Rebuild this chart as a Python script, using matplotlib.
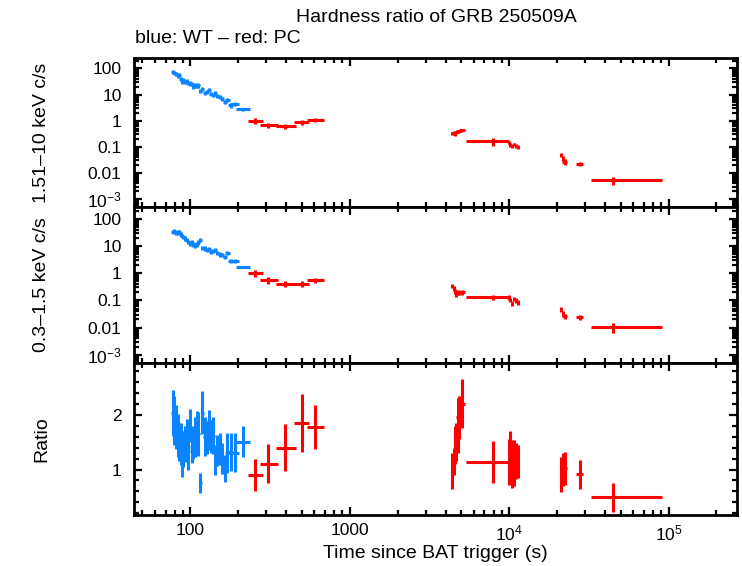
import math
import matplotlib
matplotlib.use("Agg")
import matplotlib.pyplot as plt
from matplotlib.ticker import LogLocator, FixedLocator, MultipleLocator, FuncFormatter, NullFormatter

plt.rcParams['font.family'] = ['Liberation Sans', 'DejaVu Sans']
plt.rcParams['mathtext.fontset'] = 'custom'
plt.rcParams['mathtext.rm'] = 'Liberation Sans'
plt.rcParams['mathtext.it'] = 'Liberation Sans'

# ---------------- data ----------------
# WT mode (blue)
wt_t = [77.5, 79.4, 81.3, 83.3, 85.3, 87.0, 88.7, 90.4, 92.6, 94.9, 97.2, 99.6, 102.0,
        104.5, 107.0, 109.6, 112.3, 115.1, 119.0, 123.1, 126.7, 131.0, 134.9, 139.5,
        143.6, 147.8, 153.6, 158.9, 164.3, 170.8, 179.2, 189.9, 215.3]
wt_terr = [1.5, 1.5, 1.6, 1.6, 1.7, 1.7, 1.8, 1.8, 1.9, 1.9, 2.0, 2.0, 2.1, 2.2, 2.2, 2.3,
           2.4, 2.4, 2.6, 3.0, 3.0, 3.2, 3.3, 3.5, 3.6, 3.8, 4.0, 4.3, 5.0, 5.5, 7.0, 13.0, 22.0]
wt_hard = [73.4, 69, 61.5, 54.7, 58, 40.8, 32.2, 36.3, 30.4, 32.2, 28.6, 27, 25.5, 20.1,
           22.6, 21.4, 22.6, 14.2, 16.9, 11.9, 12.6, 15, 10.5, 9.9, 11.2, 8.8, 7.9, 7.0,
           5.2, 6.2, 3.9, 4.4, 2.73]
wt_hard_err = [13, 12, 11, 10, 10, 7.3, 5.8, 6.5, 5.5, 5.8, 5.1, 4.9, 4.6, 3.6, 4.1, 3.9,
               4.1, 2.6, 3.0, 2.1, 2.3, 2.7, 1.9, 1.8, 2.0, 1.6, 1.4, 1.3, 0.94, 1.1, 0.7,
               0.8, 0.3]
wt_soft = [34.2, 36.2, 30.6, 32.4, 34.2, 27.3, 24.4, 21.8, 19.5, 17.4, 14.7, 12.7, 13.9,
           11.7, 10.5, 11.7, 13.9, 17.4, 8.8, 8.4, 7.5, 7.9, 6.3, 6.7, 7.5, 5.6, 5.0, 4.7,
           4.0, 5.6, 2.86, 2.86, 1.72]
wt_soft_err = [6.2, 6.5, 5.5, 5.8, 6.2, 4.9, 4.4, 3.9, 3.5, 3.1, 2.6, 2.3, 2.5, 2.1, 1.9,
               2.1, 2.5, 3.1, 1.6, 1.5, 1.35, 1.4, 1.1, 1.2, 1.35, 1.0, 0.9, 0.85, 0.72, 1.0,
               0.5, 0.5, 0.2]
wt_ratio = [2.04, 1.90, 1.77, 1.62, 1.50, 1.47, 1.26, 1.38, 1.47, 1.59, 1.34, 1.81, 1.42,
            1.50, 1.59, 1.72, 1.65, 0.76, 2.04, 1.60, 1.59, 1.72, 1.60, 1.62, 1.17, 1.35,
            1.37, 1.20, 1.02, 1.30, 1.32, 1.31, 1.51]
wt_ratio_err = [0.42, 0.45, 0.40, 0.40, 0.35, 0.38, 0.40, 0.33, 0.33, 0.33, 0.35, 0.30, 0.30,
                0.30, 0.36, 0.35, 0.40, 0.18, 0.40, 0.35, 0.30, 0.36, 0.30, 0.33, 0.27, 0.28,
                0.29, 0.29, 0.24, 0.36, 0.35, 0.35, 0.29]

# PC mode (red)
pc_t = [256, 309, 395, 502, 609, 4394, 4480, 4567, 4656, 4746, 4862, 5053, 7866,
        9918, 10160, 10460, 10765, 11080, 11404, 21240, 21760, 22290, 27680, 44600]
pc_tlo = [25, 35, 50, 58, 67, 60, 60, 60, 80, 100, 190, 230, 2490,
          80, 80, 90, 90, 100, 120, 300, 300, 800, 1350, 11900]
pc_thi = [29, 45, 64, 56, 78, 60, 60, 60, 80, 100, 190, 230, 2050,
          80, 80, 90, 90, 100, 120, 300, 300, 800, 1350, 46400]
pc_hard = [0.97, 0.66, 0.61, 0.89, 1.06, 0.33, 0.34, 0.32, 0.36, 0.38, 0.41, 0.44, 0.162,
           0.144, 0.12, 0.107, 0.125, 0.107, 0.101, 0.0485, 0.036, 0.027, 0.022, 0.0052]
pc_hard_err = [0.25, 0.14, 0.11, 0.18, 0.20, 0.05, 0.05, 0.05, 0.05, 0.05, 0.05, 0.05, 0.05,
               0.02, 0.02, 0.02, 0.02, 0.02, 0.02, 0.009, 0.008, 0.007, 0.004, 0.0018]
pc_soft = [1.0, 0.556, 0.42, 0.42, 0.556, 0.354, 0.28, 0.213, 0.17, 0.2, 0.19, 0.2, 0.132,
           0.132, 0.105, 0.079, 0.115, 0.1, 0.086, 0.048, 0.034, 0.027, 0.024, 0.0105]
pc_soft_err = [0.3, 0.15, 0.12, 0.12, 0.12, 0.06, 0.05, 0.04, 0.035, 0.04, 0.035, 0.04, 0.03,
               0.025, 0.02, 0.018, 0.022, 0.02, 0.018, 0.009, 0.007, 0.006, 0.005, 0.004]
pc_ratio = [0.90, 1.11, 1.40, 1.85, 1.77, 0.98, 1.15, 1.45, 1.50, 1.80, 1.95, 2.20, 1.14,
            1.14, 1.25, 1.10, 1.12, 1.15, 1.14, 0.91, 1.00, 1.02, 0.91, 0.49]
pc_ratio_err = [0.30, 0.36, 0.43, 0.53, 0.40, 0.33, 0.25, 0.35, 0.35, 0.50, 0.40, 0.45, 0.38,
                0.42, 0.45, 0.44, 0.42, 0.33, 0.30, 0.32, 0.30, 0.30, 0.26, 0.27]

title = "Hardness ratio of GRB 250509A"
subtitle = "blue: WT \u2013 red: PC"
ylabels = ["1.51\u201310 keV c/s", "0.3\u20131.5 keV c/s", "Ratio"]
xlabel = "Time since BAT trigger (s)"

BLUE = '#0a84ff'
RED = '#ff0000'

# ---------------- figure ----------------
W, H = 742, 566
fig = plt.figure(figsize=(W / 100, H / 100), dpi=100)

left = 134 / W
width = (737 - 134) / W
def box(top_px, bot_px):
    return [left, 1 - bot_px / H, width, (bot_px - top_px) / H]

ax1 = fig.add_axes(box(58.3, 206.7))
ax2 = fig.add_axes(box(206.7, 362.7))
ax3 = fig.add_axes(box(362.7, 515))

FS = 12.5   # tick labels
LFS = 14.0  # titles / axis labels
ELW = 2.2

def xfmt(v, pos):
    if abs(v - 100) < 1e-6:
        return "100"
    if abs(v - 1000) < 1e-6:
        return "1000"
    e = int(round(math.log10(v)))
    return r"$10^{%d}$" % e

def yfmt(v, pos):
    e = int(round(math.log10(v)))
    if e >= 0:
        return "%d" % int(round(v))
    if e >= -2:
        return ("%.*f" % (-e, v))
    return r"$10^{%d}$" % e

for ax in (ax1, ax2, ax3):
    ax.set_xscale('log')
    ax.set_xlim(44.3, 2.69e5)
    for s in ax.spines.values():
        s.set_linewidth(2.0)
    ax.tick_params(which='both', direction='in', top=True, right=True, width=1.6,
                   labelsize=FS)
    ax.tick_params(axis='y', pad=9)
    ax.tick_params(axis='x', pad=6)
    ax.tick_params(which='major', length=6)
    ax.tick_params(which='minor', length=3.5)
    ax.xaxis.set_major_locator(FixedLocator([100, 1000, 1e4, 1e5]))
    ax.xaxis.set_minor_locator(LogLocator(base=10, subs=range(2, 10), numticks=20))
    ax.xaxis.set_minor_formatter(NullFormatter())

for ax in (ax1, ax2):
    ax.xaxis.set_major_formatter(NullFormatter())
    ax.set_yscale('log')
    ax.yaxis.set_major_locator(FixedLocator([1e-3, 1e-2, 1e-1, 1, 10, 100]))
    ax.yaxis.set_minor_locator(LogLocator(base=10, subs=range(2, 10), numticks=20))
    ax.yaxis.set_major_formatter(FuncFormatter(yfmt))
    ax.yaxis.set_minor_formatter(NullFormatter())

ax1.set_ylim(5.1e-4, 245)
ax2.set_ylim(5.1e-4, 283)
ax3.set_ylim(0.17, 2.95)
ax3.yaxis.set_major_locator(FixedLocator([1, 2]))
ax3.yaxis.set_minor_locator(MultipleLocator(0.2))
ax3.xaxis.set_major_formatter(FuncFormatter(xfmt))

eb = dict(fmt='none', elinewidth=ELW, capsize=0)

ax1.errorbar(wt_t, wt_hard, xerr=wt_terr, yerr=wt_hard_err, ecolor=BLUE, **eb)
ax1.errorbar(pc_t, pc_hard, xerr=[pc_tlo, pc_thi], yerr=pc_hard_err, ecolor=RED, **eb)
ax2.errorbar(wt_t, wt_soft, xerr=wt_terr, yerr=wt_soft_err, ecolor=BLUE, **eb)
ax2.errorbar(pc_t, pc_soft, xerr=[pc_tlo, pc_thi], yerr=pc_soft_err, ecolor=RED, **eb)
ax3.errorbar(wt_t, wt_ratio, xerr=wt_terr, yerr=wt_ratio_err, ecolor=BLUE, **eb)
ax3.errorbar(pc_t, pc_ratio, xerr=[pc_tlo, pc_thi], yerr=pc_ratio_err, ecolor=RED, **eb)

for ax, lab in zip((ax1, ax2, ax3), ylabels):
    ax.set_ylabel(lab, fontsize=LFS)
    ax.yaxis.set_label_coords((42 - 134) / (737 - 134), 0.5)
    ax.yaxis.label.set_va('center')

ax3.set_xlabel(xlabel, fontsize=LFS)
ax3.xaxis.set_label_coords(0.5, (515 - 558) / (515 - 362.7))
ax3.xaxis.label.set_va('baseline')

fig.text(436 / W, 1 - 21.7 / H, title, ha='center', va='baseline', fontsize=LFS)
fig.text(135 / W, 1 - 42.7 / H, subtitle, ha='left', va='baseline', fontsize=LFS)

fig.savefig("out.png", dpi=100)
